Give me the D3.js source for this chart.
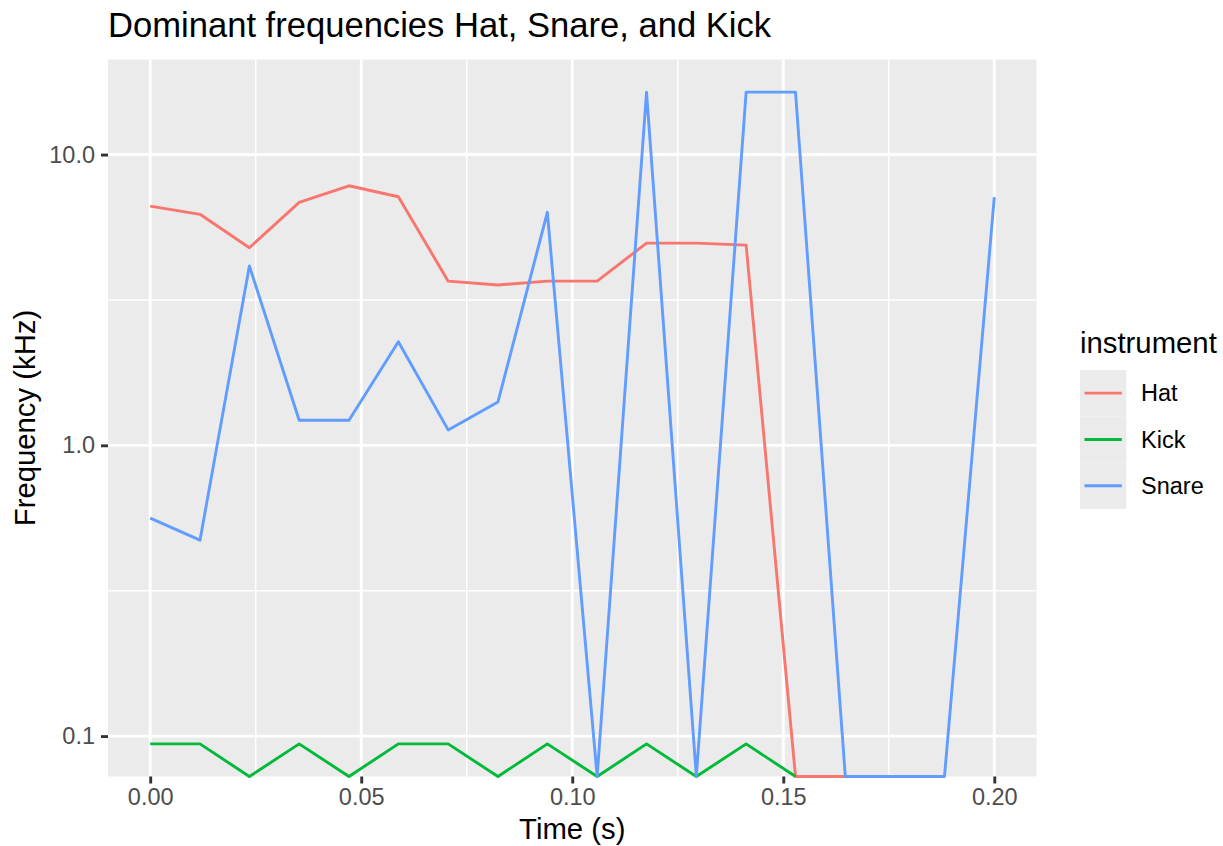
<!DOCTYPE html>
<html>
<head>
<meta charset="utf-8">
<script src="https://cdn.jsdelivr.net/npm/d3@7"></script>
<style>
  html, body { margin: 0; padding: 0; background: #ffffff; }
  svg { display: block; }
  text { font-family: "Liberation Sans", Arial, Helvetica, sans-serif; }
</style>
</head>
<body>
<svg id="chart" width="1223" height="846"></svg>
<script>
// Frame times (s)
const times = [0, 0.0118, 0.0235, 0.0353, 0.0471, 0.0588, 0.0706, 0.0824, 0.0941,
               0.1059, 0.1176, 0.1294, 0.1412, 0.1529, 0.1647, 0.1765, 0.1882, 0.2];

// Dominant frequency per frame (kHz); 0 means no energy found (drawn at the panel floor)
const hat   = [6.65, 6.23, 4.78, 6.85, 7.81, 7.16, 3.67, 3.56, 3.67, 3.67, 4.96, 4.96, 4.88, 0, 0];
const kick  = [0.094, 0.094, 0, 0.094, 0, 0.094, 0.094, 0, 0.094, 0, 0.094, 0, 0.094, 0];
const snare = [0.562, 0.472, 4.14, 1.22, 1.22, 2.27, 1.13, 1.41, 6.33, 0, 16.4, 0, 16.4, 16.4, 0, 0, 0, 7.14];

const instruments = ["Hat", "Kick", "Snare"];
const seriesValues = [hat, kick, snare];
const colours = ["#F8766D", "#00BA38", "#619CFF"];

const xTicks = [0, 0.05, 0.10, 0.15, 0.20];
const xTickLabels = ["0.00", "0.05", "0.10", "0.15", "0.20"];
const xMinor = [0.025, 0.075, 0.125, 0.175];
const yTicks = [0.1, 1, 10];
const yTickLabels = ["0.1", "1.0", "10.0"];
const yMinor = [Math.pow(10, -0.5), Math.pow(10, 0.5)];

const svg = d3.select("#chart");
const panel = { left: 108, right: 1036.5, top: 59.5, bottom: 776.5 };

// x: linear with 5% expansion
const xMin = d3.min(times), xMax = d3.max(times);
const xPad = (xMax - xMin) * 0.05;
const x = d3.scaleLinear().domain([xMin - xPad, xMax + xPad]).range([panel.left, panel.right]);

// y: log10 with 5% expansion (in log space) over positive values
const positives = seriesValues.flat().filter(v => v > 0);
const lo = Math.log10(d3.min(positives)), hi = Math.log10(d3.max(positives));
const yPad = (hi - lo) * 0.05;
const y = d3.scaleLog().domain([Math.pow(10, lo - yPad), Math.pow(10, hi + yPad)])
            .range([panel.bottom, panel.top]);
const yPos = v => v > 0 ? y(v) : panel.bottom;

const LW = 2.9;

// panel background
svg.append("rect")
  .attr("x", panel.left).attr("y", panel.top)
  .attr("width", panel.right - panel.left).attr("height", panel.bottom - panel.top)
  .attr("fill", "#EBEBEB");

const grid = svg.append("g");
// minor grid
grid.selectAll(".xminor").data(xMinor).join("line")
  .attr("x1", d => x(d)).attr("x2", d => x(d)).attr("y1", panel.top).attr("y2", panel.bottom)
  .attr("stroke", "#fff").attr("stroke-width", LW / 2);
grid.selectAll(".yminor").data(yMinor).join("line")
  .attr("y1", d => y(d)).attr("y2", d => y(d)).attr("x1", panel.left).attr("x2", panel.right)
  .attr("stroke", "#fff").attr("stroke-width", LW / 2);
// major grid
grid.selectAll(".xmajor").data(xTicks).join("line")
  .attr("x1", d => x(d)).attr("x2", d => x(d)).attr("y1", panel.top).attr("y2", panel.bottom)
  .attr("stroke", "#fff").attr("stroke-width", LW);
grid.selectAll(".ymajor").data(yTicks).join("line")
  .attr("y1", d => y(d)).attr("y2", d => y(d)).attr("x1", panel.left).attr("x2", panel.right)
  .attr("stroke", "#fff").attr("stroke-width", LW);

// series lines
const line = d3.line().x(d => x(d.t)).y(d => yPos(d.v));
instruments.forEach((name, i) => {
  const pts = seriesValues[i].map((v, j) => ({ t: times[j], v }));
  svg.append("path")
    .datum(pts)
    .attr("d", line)
    .attr("fill", "none")
    .attr("stroke", colours[i])
    .attr("stroke-width", LW)
    .attr("stroke-linejoin", "round")
    .attr("stroke-linecap", "butt");
});

// axes
const xAxis = d3.axisBottom(x).tickValues(xTicks).tickFormat((d, i) => xTickLabels[i])
  .tickSize(7).tickPadding(5);
const gx = svg.append("g").attr("transform", `translate(0,${panel.bottom})`).call(xAxis);
gx.select(".domain").remove();
gx.selectAll(".tick line").attr("stroke", "#333333").attr("stroke-width", LW);
gx.selectAll(".tick text").attr("fill", "#4D4D4D").attr("font-size", "23.5px")
  .attr("font-family", "'Liberation Sans', Arial, sans-serif");

const yAxis = d3.axisLeft(y).tickValues(yTicks).tickFormat((d, i) => yTickLabels[i])
  .tickSize(7).tickPadding(6);
const gy = svg.append("g").attr("transform", `translate(${panel.left},0)`).call(yAxis);
gy.select(".domain").remove();
gy.selectAll(".tick line").attr("stroke", "#333333").attr("stroke-width", LW);
gy.selectAll(".tick text").attr("fill", "#4D4D4D").attr("font-size", "23.5px")
  .attr("font-family", "'Liberation Sans', Arial, sans-serif");

// titles
svg.append("text")
  .attr("x", panel.left).attr("y", 37)
  .attr("font-size", "34.6px").attr("fill", "#000")
  .text("Dominant frequencies Hat, Snare, and Kick");

svg.append("text")
  .attr("x", (panel.left + panel.right) / 2).attr("y", 839)
  .attr("text-anchor", "middle").attr("font-size", "29.3px").attr("fill", "#000")
  .text("Time (s)");

svg.append("text")
  .attr("transform", `translate(35,${(panel.top + panel.bottom) / 2}) rotate(-90)`)
  .attr("text-anchor", "middle").attr("font-size", "29.3px").attr("fill", "#000")
  .text("Frequency (kHz)");

// legend
const legend = svg.append("g").attr("transform", "translate(1080,0)");
legend.append("text")
  .attr("x", 0).attr("y", 353)
  .attr("font-size", "29.3px").attr("fill", "#000")
  .text("instrument");
const keyH = 46.3, keyW = 46.3, keyTop = 370;
instruments.forEach((name, i) => {
  const ky = keyTop + i * keyH;
  legend.append("rect")
    .attr("x", 0).attr("y", ky).attr("width", keyW).attr("height", keyH)
    .attr("fill", "#EBEBEB");
  legend.append("line")
    .attr("x1", 4.5).attr("x2", keyW - 4.5)
    .attr("y1", ky + keyH / 2).attr("y2", ky + keyH / 2)
    .attr("stroke", colours[i]).attr("stroke-width", LW);
  legend.append("text")
    .attr("x", 61).attr("y", ky + keyH / 2)
    .attr("dy", "0.35em")
    .attr("font-size", "23.5px").attr("fill", "#000")
    .text(name);
});
</script>
</body>
</html>
